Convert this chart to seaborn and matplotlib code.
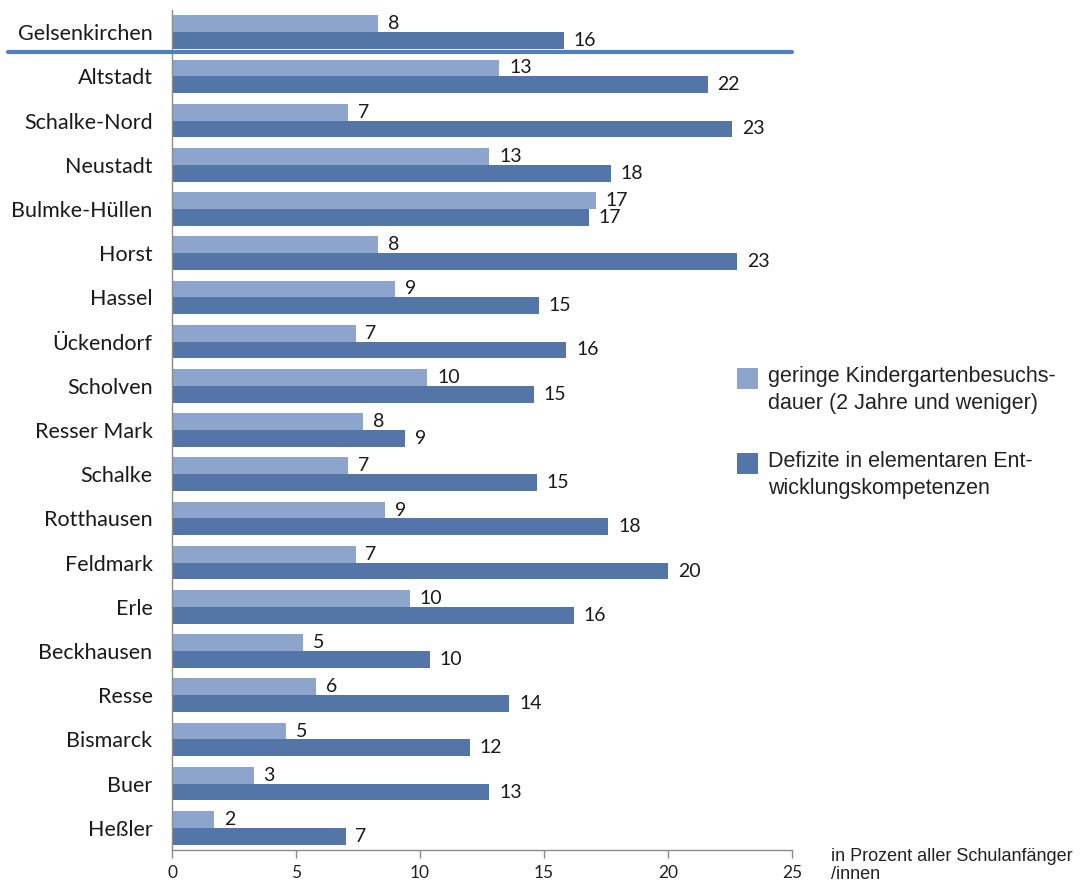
import matplotlib
matplotlib.use("Agg")
import matplotlib.pyplot as plt
from matplotlib.patches import Rectangle
from matplotlib.lines import Line2D
from matplotlib.transforms import blended_transform_factory, offset_copy
import seaborn as sns
import pandas as pd

# Stadtteile (Gelsenkirchen gesamt zuerst)
stadtteile = ["Gelsenkirchen", "Altstadt", "Schalke-Nord", "Neustadt", "Bulmke-Hüllen",
              "Horst", "Hassel", "Ückendorf", "Scholven", "Resser Mark", "Schalke",
              "Rotthausen", "Feldmark", "Erle", "Beckhausen", "Resse", "Bismarck",
              "Buer", "Heßler"]

# Anteile in Prozent aller Schulanfänger/innen
kita_kurz = [8.3, 13.2, 7.1, 12.8, 17.1, 8.3, 9.0, 7.4, 10.3, 7.7, 7.1,
             8.6, 7.4, 9.6, 5.3, 5.8, 4.6, 3.3, 1.7]
defizite = [15.8, 21.6, 22.6, 17.7, 16.8, 22.8, 14.8, 15.9, 14.6, 9.4, 14.7,
            17.6, 20.0, 16.2, 10.4, 13.6, 12.0, 12.8, 7.0]

reihen = ["geringe Kindergartenbesuchs-\ndauer (2 Jahre und weniger)",
          "Defizite in elementaren Ent-\nwicklungskompetenzen"]
x_ticks = [0, 5, 10, 15, 20, 25]

farben = ["#8DA5CD", "#5475A8"]

df = pd.DataFrame({
    "Stadtteil": stadtteile * 2,
    "Wert": kita_kurz + defizite,
    "Reihe": [reihen[0]] * len(stadtteile) + [reihen[1]] * len(stadtteile),
})

sns.set_style("white")
plt.rcParams["font.family"] = ["Lato", "DejaVu Sans"]

W, H = 1082, 884
fig = plt.figure(figsize=(W / 100, H / 100), dpi=100)
ax = fig.add_axes([172 / W, (H - 850) / H, 620 / W, 840 / H])

sns.barplot(data=df, y="Stadtteil", x="Wert", hue="Reihe", orient="h",
            palette=farben, width=0.76, saturation=1, legend=False, ax=ax,
            edgecolor="none")

# Wertebeschriftung rechts neben jedem Balken
for cont, dy in zip(ax.containers, (1, -2)):
    labels = ax.bar_label(cont, fmt="%.0f", padding=7, fontsize=14,
                          color="#1a1a1a", family=["Lato", "DejaVu Sans"])
    for t in labels:
        t.set_transform(offset_copy(t.get_transform(), fig=fig, y=dy, units="dots"))

ax.set_xlim(0, 25)
ax.set_ylim(len(stadtteile) - 0.5, -0.5)
ax.set_xticks(x_ticks)
ax.set_xticklabels([str(t) for t in x_ticks], fontsize=12.5, color="#222222")
ax.set_xlabel("")
ax.set_ylabel("")
ax.tick_params(axis="y", length=0, pad=14, labelsize=15.5, labelcolor="#1a1a1a")
ax.tick_params(axis="x", direction="out", length=6, width=1, color="#8a8a8a",
               pad=5, bottom=True)

for side in ("top", "right"):
    ax.spines[side].set_visible(False)
for side in ("left", "bottom"):
    ax.spines[side].set_color("#8a8a8a")
    ax.spines[side].set_linewidth(1)

# Trennlinie unter der Gesamtstadt
trans = blended_transform_factory(fig.transFigure, ax.transData)
fig.add_artist(Line2D([8 / W, 792 / W], [0.44, 0.44], transform=trans,
                      color="#4F7EC1", linewidth=3, clip_on=False))

# Legende
for i, (farbe, text) in enumerate(zip(farben, reihen)):
    y_top = 368 + i * 85
    fig.add_artist(Rectangle((737 / W, (H - y_top - 21) / H), 21 / W, 21 / H,
                             transform=fig.transFigure, facecolor=farbe,
                             edgecolor="none"))
    fig.text(768 / W, (H - y_top + 2) / H, text, ha="left", va="top",
             fontsize=15.5, family=["Liberation Sans", "DejaVu Sans"],
             color="#222222", linespacing=1.35)

fig.text(831 / W, (H - 848) / H, "in Prozent aller Schulanfänger\n/innen",
         ha="left", va="top", fontsize=13, family=["Liberation Sans", "DejaVu Sans"],
         color="#222222", linespacing=1.05)

fig.savefig("out.png", dpi=100, facecolor="white")
